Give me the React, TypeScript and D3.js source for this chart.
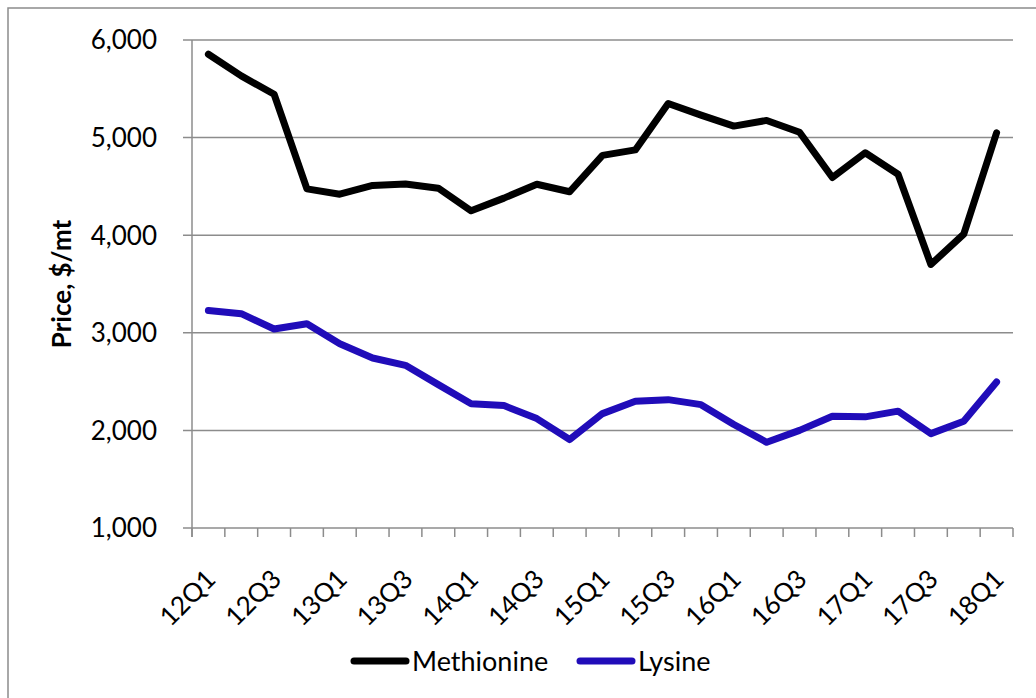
import React from 'react';
import * as d3 from 'd3';

const quarters = [
  '12Q1', '12Q2', '12Q3', '12Q4', '13Q1', '13Q2', '13Q3', '13Q4',
  '14Q1', '14Q2', '14Q3', '14Q4', '15Q1', '15Q2', '15Q3', '15Q4',
  '16Q1', '16Q2', '16Q3', '16Q4', '17Q1', '17Q2', '17Q3', '17Q4', '18Q1',
];
const methionine = [
  5854, 5632, 5444, 4475, 4420, 4510, 4525, 4482, 4250, 4380, 4522, 4445,
  4818, 4874, 5350, 5230, 5118, 5176, 5055, 4591, 4845, 4625, 3700, 4011, 5050,
];
const lysine = [
  3229, 3196, 3039, 3093, 2888, 2742, 2667, 2469, 2274, 2254, 2121, 1906,
  2172, 2298, 2315, 2264, 2060, 1878, 2000, 2145, 2139, 2197, 1967, 2093, 2497,
];
const yTicks = [1000, 2000, 3000, 4000, 5000, 6000];

const series = [
  { name: 'Methionine', values: methionine, color: '#000000' },
  { name: 'Lysine', values: lysine, color: '#200CB9' },
];

const W = 1036;
const H = 698;
const margin = { top: 40, right: 23, bottom: 170, left: 192 };
const FONT = 'Lato, "Open Sans", sans-serif';

const App: React.FC = () => {
  const x = d3
    .scaleBand<string>()
    .domain(quarters)
    .range([margin.left, W - margin.right])
    .padding(0);
  const y = d3
    .scaleLinear()
    .domain([1000, 6000])
    .range([H - margin.bottom, margin.top]);
  const line = d3
    .line<number>()
    .x((_, i) => x(quarters[i])! + x.bandwidth() / 2)
    .y((d) => y(d));

  const edges = quarters.map((q) => x(q)!).concat([W - margin.right]);
  const x0 = margin.left;
  const x1 = W - margin.right;
  const yBase = y(1000);

  return (
    <svg width={W} height={H} style={{ display: 'block', position: 'absolute', left: 0, top: 0 }}>
      <rect x={0} y={0} width={W} height={H} fill="#fff" />
      <rect x={8} y={8} width={W + 20} height={H + 20} fill="none" stroke="#8c8c8c" strokeWidth={1.5} />
      {/* gridlines + y ticks */}
      {yTicks.map((t) => (
        <g key={t}>
          <line x1={x0 - 9} x2={x1} y1={y(t)} y2={y(t)} stroke="#8c8c8c" strokeWidth={1.5} />
          <text
            x={157}
            y={y(t)}
            dy="0.36em"
            textAnchor="end"
            fontFamily={FONT}
            fontSize={26}
            fill="#000"
          >
            {d3.format(',')(t)}
          </text>
        </g>
      ))}
      {/* axes */}
      <line x1={x0} x2={x0} y1={y(6000)} y2={yBase + 9} stroke="#8c8c8c" strokeWidth={1.5} />
      {edges.map((e, i) => (
        <line key={i} x1={e} x2={e} y1={yBase} y2={yBase + 9} stroke="#8c8c8c" strokeWidth={1.5} />
      ))}
      {quarters.map((q, i) =>
        i % 2 === 0 ? (
          <text
            key={q}
            transform={`translate(${x(q)! + x.bandwidth() / 2 - 4},${yBase + 40}) rotate(-45)`}
            textAnchor="end"
            dy="0.7em"
            fontFamily={FONT}
            fontSize={26}
            fill="#000"
          >
            {q}
          </text>
        ) : null
      )}
      <text
        transform={`translate(62,${(y(6000) + yBase) / 2}) rotate(-90)`}
        textAnchor="middle"
        dy="0.35em"
        fontFamily={FONT}
        fontSize={26}
        fontWeight="bold"
        fill="#000"
      >
        Price, $/mt
      </text>
      {/* series */}
      {series.map((s) => (
        <path
          key={s.name}
          d={line(s.values)!}
          fill="none"
          stroke={s.color}
          strokeWidth={7}
          strokeLinejoin="round"
          strokeLinecap="round"
        />
      ))}
      {/* legend */}
      {series.map((s, i) => {
        const lx = i === 0 ? 354 : 580;
        return (
          <g key={s.name}>
            <line x1={lx} x2={lx + 52} y1={661} y2={661} stroke={s.color} strokeWidth={7} strokeLinecap="round" />
            <text x={lx + 58} y={661} dy="0.36em" fontFamily={FONT} fontSize={27} fill="#000">
              {s.name}
            </text>
          </g>
        );
      })}
    </svg>
  );
};

export default App;
